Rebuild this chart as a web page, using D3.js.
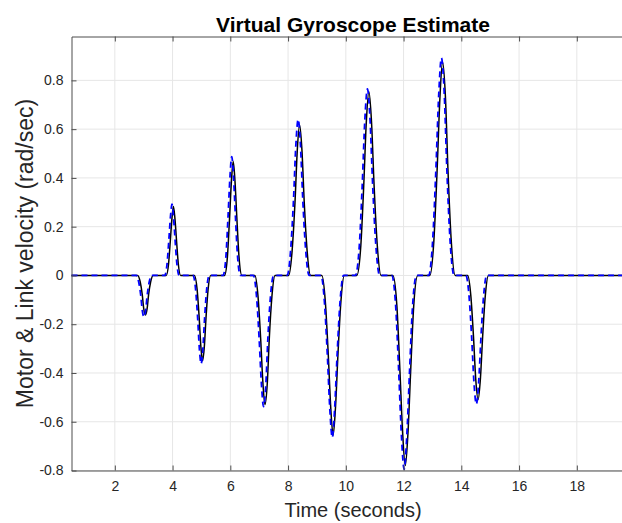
<!DOCTYPE html>
<html>
<head>
<meta charset="utf-8">
<script src="https://cdn.jsdelivr.net/npm/d3@7"></script>
<style>
  body { margin: 0; background: #fff; }
  text { font-family: "Liberation Sans", Arial, Helvetica, sans-serif; }
</style>
</head>
<body>
<svg id="GyroSpace"></svg>
<script>

// tick values
const xTicks = [2, 4, 6, 8, 10, 12, 14, 16, 18];
const yTicks = [-0.8, -0.6, -0.4, -0.2, 0, 0.2, 0.4, 0.6, 0.8];

// measured link velocity (black, solid)
const measTime = [0.5,
  2.79, 2.88, 2.95, 3.00, 3.06, 3.12, 3.17, 3.24, 3.33,
  3.78, 3.86, 3.92, 3.98, 4.03, 4.08, 4.14, 4.20, 4.28,
  4.76, 4.85, 4.92, 4.98, 5.04, 5.10, 5.16, 5.23, 5.32,
  5.80, 5.90, 5.97, 6.04, 6.10, 6.16, 6.23, 6.30, 6.40,
  6.85, 6.96, 7.05, 7.13, 7.20, 7.28, 7.35, 7.44, 7.55,
  8.02, 8.14, 8.24, 8.32, 8.40, 8.48, 8.56, 8.66, 8.78,
  9.17, 9.29, 9.39, 9.48, 9.56, 9.64, 9.73, 9.83, 9.95,
  10.38, 10.52, 10.62, 10.71, 10.80, 10.89, 10.98, 11.09, 11.22,
  11.63, 11.77, 11.87, 11.97, 12.06, 12.15, 12.25, 12.35, 12.49,
  12.91, 13.05, 13.16, 13.26, 13.35, 13.45, 13.54, 13.65, 13.79,
  14.22, 14.33, 14.42, 14.50, 14.58, 14.66, 14.74, 14.83, 14.94,
  20];
const measVel = [0,
  0, -0.027, -0.079, -0.135, -0.162, -0.135, -0.079, -0.027, 0,
  0, 0.046, 0.138, 0.236, 0.283, 0.236, 0.138, 0.046, 0,
  0, -0.057, -0.170, -0.292, -0.350, -0.292, -0.170, -0.057, 0,
  0, 0.077, 0.227, 0.390, 0.467, 0.390, 0.227, 0.077, 0,
  0, -0.087, -0.258, -0.443, -0.530, -0.443, -0.258, -0.087, 0,
  0, 0.101, 0.300, 0.515, 0.617, 0.515, 0.300, 0.101, 0,
  0, -0.107, -0.319, -0.547, -0.655, -0.547, -0.319, -0.107, 0,
  0, 0.123, 0.367, 0.629, 0.753, 0.629, 0.367, 0.123, 0,
  0, -0.128, -0.380, -0.651, -0.780, -0.651, -0.380, -0.128, 0,
  0, 0.144, 0.426, 0.731, 0.875, 0.731, 0.426, 0.144, 0,
  0, -0.084, -0.248, -0.426, -0.510, -0.426, -0.248, -0.084, 0,
  0];

// virtual gyroscope estimate (blue, dashed)
const estTime = [0.5,
  2.74, 2.83, 2.90, 2.95, 3.01, 3.07, 3.12, 3.19, 3.28,
  3.73, 3.81, 3.87, 3.93, 3.98, 4.03, 4.09, 4.15, 4.23,
  4.71, 4.80, 4.87, 4.93, 4.99, 5.05, 5.11, 5.18, 5.27,
  5.75, 5.85, 5.92, 5.99, 6.05, 6.11, 6.18, 6.25, 6.35,
  6.80, 6.91, 7.00, 7.08, 7.15, 7.23, 7.30, 7.39, 7.50,
  7.97, 8.09, 8.19, 8.27, 8.35, 8.43, 8.51, 8.61, 8.73,
  9.14, 9.26, 9.36, 9.45, 9.53, 9.61, 9.70, 9.80, 9.92,
  10.33, 10.47, 10.57, 10.66, 10.75, 10.84, 10.93, 11.04, 11.17,
  11.59, 11.73, 11.83, 11.93, 12.02, 12.11, 12.21, 12.31, 12.45,
  12.87, 13.01, 13.12, 13.22, 13.31, 13.41, 13.50, 13.61, 13.75,
  14.16, 14.27, 14.36, 14.44, 14.52, 14.60, 14.68, 14.77, 14.88,
  20];
const estVel = [0,
  0, -0.028, -0.083, -0.142, -0.170, -0.142, -0.083, -0.028, 0,
  0, 0.048, 0.142, 0.244, 0.292, 0.244, 0.142, 0.048, 0,
  0, -0.059, -0.176, -0.302, -0.362, -0.302, -0.176, -0.059, 0,
  0, 0.080, 0.237, 0.407, 0.487, 0.407, 0.237, 0.080, 0,
  0, -0.088, -0.262, -0.449, -0.538, -0.449, -0.262, -0.088, 0,
  0, 0.105, 0.312, 0.534, 0.640, 0.534, 0.312, 0.105, 0,
  0, -0.109, -0.324, -0.555, -0.665, -0.555, -0.324, -0.109, 0,
  0, 0.125, 0.373, 0.639, 0.765, 0.639, 0.373, 0.125, 0,
  0, -0.130, -0.387, -0.664, -0.795, -0.664, -0.387, -0.130, 0,
  0, 0.146, 0.434, 0.745, 0.892, 0.745, 0.434, 0.146, 0,
  0, -0.087, -0.257, -0.441, -0.528, -0.441, -0.257, -0.087, 0,
  0];

//
const WidthTotal = 622;
const HeightTotal = 523;

const Left = 71.5, Top = 36.5, Bottom = 470.5;
const Right = Left + 19.5 * 28.875;   // axes run past the right edge of the picture

const MySpace = d3.select("#GyroSpace")
  .attr("width", WidthTotal)
  .attr("height", HeightTotal);

const x = d3.scaleLinear().domain([0.5, 20]).range([Left, Right]);
const y = d3.scaleLinear().domain([-0.8, 0.98]).range([Bottom, Top]);

const fmt = d3.formatLocale({decimal: ".", thousands: ",", grouping: [3], currency: ["", ""], minus: "-"}).format(".1f");
const yFmt = d => d === 0 ? "0" : fmt(d);

// grid (20 is off the picture but still gets its line)
const grid = MySpace.append("g");
grid.selectAll(".vgrid")
  .data(xTicks.concat([20]))
  .enter()
  .append("line")
    .attr("x1", d => x(d)).attr("x2", d => x(d))
    .attr("y1", Top).attr("y2", Bottom)
    .attr("stroke", "#e6e6e6");
grid.selectAll(".hgrid")
  .data(yTicks)
  .enter()
  .append("line")
    .attr("x1", Left).attr("x2", Right)
    .attr("y1", d => y(d)).attr("y2", d => y(d))
    .attr("stroke", "#e6e6e6");

// lines
const measData = measTime.map((t, i) => [t, measVel[i]]);
const estData = estTime.map((t, i) => [t, estVel[i]]);

const line = d3.line()
  .x(d => x(d[0]))
  .y(d => y(d[1]))
  .curve(d3.curveMonotoneX);

MySpace.append("path")
  .datum(measData)
  .attr("d", line)
  .attr("fill", "none")
  .attr("stroke", "#000")
  .attr("stroke-width", 1.5);

MySpace.append("path")
  .datum(estData)
  .attr("d", line)
  .attr("fill", "none")
  .attr("stroke", "#0000ff")
  .attr("stroke-width", 1.8)
  .attr("stroke-dasharray", "6,4");

// axes, ticks point inward like matlab
const xAxis = MySpace.append("g")
  .attr("transform", `translate(0,${Bottom})`)
  .call(d3.axisBottom(x).tickValues(xTicks).tickSizeInner(-5).tickSizeOuter(0).tickPadding(11));

const xTop = MySpace.append("g")
  .attr("transform", `translate(0,${Top})`)
  .call(d3.axisTop(x).tickValues(xTicks.concat([20])).tickSizeInner(-5).tickSizeOuter(0).tickFormat(""));

const yAxis = MySpace.append("g")
  .attr("transform", `translate(${Left},0)`)
  .call(d3.axisLeft(y).tickValues(yTicks).tickSizeInner(-5).tickSizeOuter(0).tickPadding(8).tickFormat(yFmt));

[xAxis, xTop, yAxis].forEach(a => {
  a.select(".domain").attr("stroke", "#4d4d4d");
  a.selectAll(".tick line").attr("stroke", "#4d4d4d");
  a.selectAll(".tick text")
    .attr("fill", "#262626")
    .style("font-size", "14px")
    .style("font-family", "'Liberation Sans', Arial, sans-serif");
});

// titles
MySpace.append("text")
  .attr("x", (Left + Right) / 2)
  .attr("y", 32)
  .attr("text-anchor", "middle")
  .style("font-size", "21px")
  .style("font-weight", "bold")
  .attr("fill", "#000")
  .text("Virtual Gyroscope Estimate");

MySpace.append("text")
  .attr("x", (Left + Right) / 2)
  .attr("y", 517)
  .attr("text-anchor", "middle")
  .style("font-size", "20px")
  .attr("fill", "#262626")
  .text("Time (seconds)");

MySpace.append("text")
  .attr("transform", `translate(33,${(Top + Bottom) / 2}) rotate(-90)`)
  .attr("text-anchor", "middle")
  .style("font-size", "23px")
  .attr("fill", "#262626")
  .text("Motor & Link velocity (rad/sec)");

</script>
</body>
</html>
